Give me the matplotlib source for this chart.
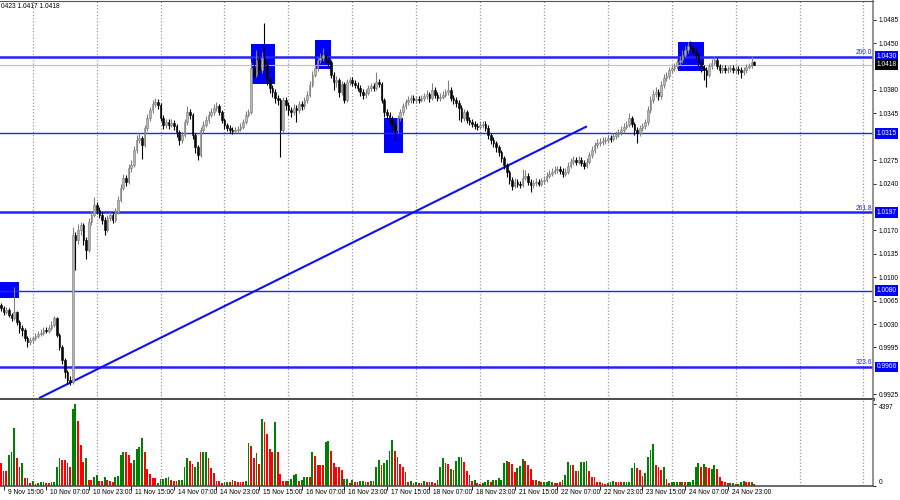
import matplotlib
matplotlib.use("Agg")
import matplotlib.pyplot as plt
import matplotlib.transforms as mtransforms
from matplotlib.patches import Rectangle
import numpy as np

plt.rcParams['font.family'] = ['Liberation Sans', 'DejaVu Sans']

# H1 bars, first bar is one hour before "9 Nov 15:00"
first_open = 1.0058
closes = [
    1.0054, 1.0048, 1.0051, 1.0044, 1.0039, 1.0048, 1.0033, 1.0024, 1.0021, 1.0009,
    1.0003, 1.0006, 1.0009, 1.0012, 1.0015, 1.0017, 1.0021, 1.0020, 1.0024, 1.0029,
    1.0039, 1.0014, 0.9996, 0.9976, 0.9958, 0.9946, 0.9943, 1.0163, 1.0156, 1.0171,
    1.0178, 1.0156, 1.0141, 1.0183, 1.0193, 1.0208, 1.0201, 1.0193, 1.0186, 1.0171,
    1.0189, 1.0193, 1.0186, 1.0198, 1.0216, 1.0234, 1.0249, 1.0243, 1.0264, 1.0268,
    1.0290, 1.0305, 1.0308, 1.0298, 1.0323, 1.0338, 1.0350, 1.0359, 1.0362, 1.0358,
    1.0338, 1.0328, 1.0332, 1.0328, 1.0331, 1.0326, 1.0317, 1.0305, 1.0313, 1.0332,
    1.0347, 1.0343, 1.0313, 1.0294, 1.0283, 1.0320, 1.0328, 1.0335, 1.0343, 1.0347,
    1.0353, 1.0356, 1.0347, 1.0335, 1.0328, 1.0323, 1.0320, 1.0319, 1.0320, 1.0322,
    1.0325, 1.0332, 1.0343, 1.0347, 1.0413, 1.0403, 1.0425, 1.0410, 1.0428, 1.0418,
    1.0395, 1.0383, 1.0377, 1.0368, 1.0365, 1.0320, 1.0365, 1.0358, 1.0350, 1.0347,
    1.0353, 1.0350, 1.0359, 1.0356, 1.0365, 1.0373, 1.0388, 1.0403, 1.0413, 1.0425,
    1.0428, 1.0433, 1.0425, 1.0422, 1.0403, 1.0392, 1.0395, 1.0377, 1.0389, 1.0365,
    1.0392, 1.0395, 1.0391, 1.0388, 1.0383, 1.0377, 1.0373, 1.0376, 1.0383, 1.0386,
    1.0383, 1.0392, 1.0389, 1.0365, 1.0347, 1.0343, 1.0338, 1.0328, 1.0320, 1.0338,
    1.0347, 1.0356, 1.0362, 1.0365, 1.0368, 1.0365, 1.0367, 1.0365, 1.0368, 1.0371,
    1.0374, 1.0368, 1.0380, 1.0373, 1.0368, 1.0370, 1.0373, 1.0377, 1.0380, 1.0368,
    1.0365, 1.0361, 1.0353, 1.0338, 1.0347, 1.0335, 1.0332, 1.0329, 1.0326, 1.0325,
    1.0328, 1.0329, 1.0323, 1.0313, 1.0305, 1.0301, 1.0294, 1.0287, 1.0279, 1.0268,
    1.0258, 1.0246, 1.0237, 1.0243, 1.0240, 1.0238, 1.0249, 1.0252, 1.0243, 1.0238,
    1.0241, 1.0243, 1.0240, 1.0244, 1.0246, 1.0252, 1.0255, 1.0258, 1.0261, 1.0262,
    1.0259, 1.0255, 1.0258, 1.0267, 1.0273, 1.0276, 1.0273, 1.0276, 1.0271, 1.0267,
    1.0273, 1.0283, 1.0290, 1.0297, 1.0301, 1.0302, 1.0304, 1.0305, 1.0308, 1.0307,
    1.0311, 1.0314, 1.0317, 1.0320, 1.0325, 1.0328, 1.0338, 1.0329, 1.0320, 1.0316,
    1.0323, 1.0326, 1.0332, 1.0350, 1.0365, 1.0374, 1.0377, 1.0371, 1.0388, 1.0398,
    1.0401, 1.0410, 1.0413, 1.0416, 1.0422, 1.0425, 1.0433, 1.0440, 1.0445, 1.0443,
    1.0437, 1.0433, 1.0422, 1.0413, 1.0410, 1.0403, 1.0416, 1.0421, 1.0425, 1.0416,
    1.0410, 1.0413, 1.0410, 1.0412, 1.0413, 1.0410, 1.0412, 1.0410, 1.0407, 1.0410,
    1.0415, 1.0416, 1.0422, 1.0418,
]
highs = [
    1.0062, 1.0057, 1.0055, 1.0054, 1.0047, 1.0085, 1.0050, 1.0036, 1.0028, 1.0024,
    1.0012, 1.0010, 1.0012, 1.0016, 1.0019, 1.0022, 1.0025, 1.0026, 1.0028, 1.0034,
    1.0042, 1.0040, 1.0016, 0.9998, 0.9979, 0.9962, 0.9952, 1.0175, 1.0168, 1.0180,
    1.0183, 1.0181, 1.0160, 1.0188, 1.0199, 1.0220, 1.0212, 1.0205, 1.0197, 1.0190,
    1.0193, 1.0198, 1.0197, 1.0203, 1.0222, 1.0240, 1.0255, 1.0253, 1.0270, 1.0275,
    1.0296, 1.0312, 1.0316, 1.0311, 1.0328, 1.0344, 1.0355, 1.0365, 1.0368, 1.0366,
    1.0361, 1.0342, 1.0337, 1.0336, 1.0336, 1.0335, 1.0329, 1.0320, 1.0318, 1.0337,
    1.0356, 1.0352, 1.0346, 1.0316, 1.0298, 1.0325, 1.0334, 1.0341, 1.0348, 1.0353,
    1.0359, 1.0362, 1.0359, 1.0350, 1.0338, 1.0331, 1.0327, 1.0324, 1.0324, 1.0326,
    1.0330, 1.0337, 1.0349, 1.0352, 1.0422, 1.0428, 1.0440, 1.0432, 1.0437, 1.0480,
    1.0425, 1.0400, 1.0388, 1.0381, 1.0373, 1.0368, 1.0370, 1.0369, 1.0362, 1.0355,
    1.0359, 1.0358, 1.0364, 1.0363, 1.0370, 1.0378, 1.0393, 1.0408, 1.0418, 1.0430,
    1.0436, 1.0443, 1.0437, 1.0430, 1.0425, 1.0407, 1.0401, 1.0398, 1.0394, 1.0392,
    1.0397, 1.0400, 1.0399, 1.0395, 1.0392, 1.0387, 1.0381, 1.0381, 1.0388, 1.0391,
    1.0390, 1.0407, 1.0397, 1.0392, 1.0368, 1.0352, 1.0347, 1.0341, 1.0332, 1.0343,
    1.0352, 1.0361, 1.0367, 1.0371, 1.0373, 1.0372, 1.0371, 1.0371, 1.0372, 1.0376,
    1.0380, 1.0377, 1.0390, 1.0384, 1.0377, 1.0375, 1.0378, 1.0382, 1.0395, 1.0384,
    1.0372, 1.0369, 1.0365, 1.0357, 1.0352, 1.0350, 1.0339, 1.0336, 1.0333, 1.0330,
    1.0333, 1.0334, 1.0333, 1.0327, 1.0316, 1.0309, 1.0304, 1.0297, 1.0290, 1.0282,
    1.0271, 1.0261, 1.0250, 1.0248, 1.0247, 1.0244, 1.0262, 1.0260, 1.0256, 1.0247,
    1.0246, 1.0248, 1.0247, 1.0249, 1.0251, 1.0257, 1.0261, 1.0263, 1.0266, 1.0267,
    1.0266, 1.0263, 1.0263, 1.0272, 1.0278, 1.0282, 1.0280, 1.0281, 1.0280, 1.0275,
    1.0278, 1.0288, 1.0296, 1.0302, 1.0307, 1.0308, 1.0309, 1.0310, 1.0313, 1.0313,
    1.0316, 1.0319, 1.0322, 1.0326, 1.0331, 1.0334, 1.0345, 1.0341, 1.0332, 1.0325,
    1.0328, 1.0331, 1.0337, 1.0356, 1.0371, 1.0380, 1.0385, 1.0381, 1.0393, 1.0404,
    1.0407, 1.0415, 1.0418, 1.0421, 1.0427, 1.0431, 1.0439, 1.0446, 1.0452, 1.0453,
    1.0448, 1.0442, 1.0436, 1.0425, 1.0418, 1.0414, 1.0421, 1.0426, 1.0431, 1.0428,
    1.0419, 1.0418, 1.0417, 1.0416, 1.0417, 1.0417, 1.0416, 1.0416, 1.0414, 1.0415,
    1.0419, 1.0421, 1.0431, 1.0423,
]
lows = [
    1.0049, 1.0044, 1.0045, 1.0040, 1.0035, 1.0036, 1.0028, 1.0017, 1.0012, 1.0004,
    0.9995, 0.9998, 1.0002, 1.0006, 1.0009, 1.0012, 1.0014, 1.0016, 1.0017, 1.0021,
    1.0026, 1.0010, 0.9992, 0.9970, 0.9950, 0.9940, 0.9939, 0.9940, 1.0111, 1.0150,
    1.0163, 1.0148, 1.0128, 1.0138, 1.0178, 1.0190, 1.0195, 1.0188, 1.0180, 1.0163,
    1.0168, 1.0184, 1.0181, 1.0183, 1.0195, 1.0212, 1.0230, 1.0237, 1.0240, 1.0258,
    1.0265, 1.0286, 1.0300, 1.0277, 1.0294, 1.0319, 1.0334, 1.0346, 1.0355, 1.0352,
    1.0333, 1.0322, 1.0323, 1.0322, 1.0324, 1.0320, 1.0310, 1.0298, 1.0300, 1.0310,
    1.0328, 1.0336, 1.0306, 1.0286, 1.0276, 1.0280, 1.0316, 1.0324, 1.0331, 1.0339,
    1.0343, 1.0349, 1.0342, 1.0330, 1.0322, 1.0318, 1.0315, 1.0314, 1.0315, 1.0316,
    1.0318, 1.0321, 1.0329, 1.0339, 1.0344, 1.0398, 1.0400, 1.0402, 1.0405, 1.0410,
    1.0388, 1.0376, 1.0370, 1.0360, 1.0358, 1.0280, 1.0315, 1.0350, 1.0343, 1.0340,
    1.0343, 1.0332, 1.0346, 1.0350, 1.0352, 1.0360, 1.0370, 1.0384, 1.0399, 1.0409,
    1.0420, 1.0424, 1.0420, 1.0416, 1.0398, 1.0380, 1.0385, 1.0370, 1.0372, 1.0360,
    1.0362, 1.0388, 1.0386, 1.0383, 1.0378, 1.0371, 1.0367, 1.0368, 1.0372, 1.0379,
    1.0378, 1.0380, 1.0384, 1.0360, 1.0340, 1.0336, 1.0330, 1.0318, 1.0305, 1.0316,
    1.0334, 1.0343, 1.0352, 1.0358, 1.0361, 1.0360, 1.0361, 1.0361, 1.0362, 1.0364,
    1.0367, 1.0362, 1.0365, 1.0368, 1.0363, 1.0364, 1.0366, 1.0369, 1.0372, 1.0363,
    1.0359, 1.0355, 1.0335, 1.0332, 1.0334, 1.0330, 1.0327, 1.0324, 1.0321, 1.0320,
    1.0321, 1.0323, 1.0318, 1.0307, 1.0299, 1.0295, 1.0288, 1.0281, 1.0273, 1.0262,
    1.0250, 1.0240, 1.0231, 1.0233, 1.0235, 1.0233, 1.0235, 1.0245, 1.0238, 1.0228,
    1.0234, 1.0237, 1.0236, 1.0236, 1.0240, 1.0242, 1.0248, 1.0251, 1.0254, 1.0256,
    1.0254, 1.0250, 1.0251, 1.0254, 1.0263, 1.0268, 1.0268, 1.0269, 1.0266, 1.0262,
    1.0263, 1.0270, 1.0279, 1.0286, 1.0293, 1.0296, 1.0298, 1.0299, 1.0301, 1.0302,
    1.0303, 1.0307, 1.0310, 1.0313, 1.0316, 1.0321, 1.0324, 1.0324, 1.0312, 1.0300,
    1.0311, 1.0318, 1.0321, 1.0328, 1.0346, 1.0361, 1.0369, 1.0365, 1.0367, 1.0383,
    1.0393, 1.0396, 1.0405, 1.0408, 1.0411, 1.0417, 1.0421, 1.0429, 1.0436, 1.0438,
    1.0432, 1.0427, 1.0416, 1.0407, 1.0395, 1.0384, 1.0399, 1.0411, 1.0417, 1.0411,
    1.0405, 1.0406, 1.0405, 1.0406, 1.0407, 1.0405, 1.0406, 1.0404, 1.0398, 1.0403,
    1.0406, 1.0411, 1.0413, 1.0417,
]
volumes = [
    1249, 820, 820, 1662, 1840, 3091, 1483, 1036, 1249, 411,
    411, 143, 268, 107, 143, 232, 232, 179, 143, 215,
    215, 1018, 1483, 1412, 1376, 1251, 1018, 4111, 4397, 3500,
    2198, 1305, 1483, 322, 322, 466, 590, 268, 268, 466,
    322, 268, 215, 466, 554, 1662, 1840, 1805, 1662, 1249,
    1376, 1984, 2090, 2555, 1840, 929, 661, 429, 411, 143,
    375, 375, 447, 500, 322, 268, 268, 304, 322, 1000,
    1483, 1340, 1161, 1000, 1287, 1823, 1823, 1823, 1483, 947,
    697, 268, 268, 143, 215, 215, 215, 322, 250, 215,
    215, 232, 268, 2287, 2144, 1483, 1751, 1161, 3608, 3429,
    2769, 1966, 1805, 3429, 1805, 661, 268, 268, 268, 375,
    608, 625, 268, 304, 500, 500, 466, 1840, 1590, 1125,
    1143, 1143, 2376, 2412, 1894, 1249, 1036, 1036, 858, 358,
    358, 143, 322, 197, 197, 268, 268, 197, 197, 268,
    268, 1000, 1412, 1143, 1215, 1376, 1876, 2465, 1894, 1555,
    1161, 1036, 768, 232, 286, 143, 232, 143, 143, 286,
    232, 232, 197, 143, 322, 1000, 1483, 1251, 1200,
    893, 858, 1340, 1572, 1572, 1304, 822, 572, 286, 322,
    143, 89, 143, 232, 322, 232, 322, 322, 411, 322,
    1251, 1340, 1304, 1161, 768, 947, 1072, 1429, 1358, 1126,
    893, 322, 322, 268, 232, 232, 214, 268, 232, 179,
    179, 232, 322, 572, 1286, 1108, 1126, 822, 822, 1286,
    1286, 1358, 822, 500, 465, 232, 232, 143, 107, 143,
    232, 286, 197, 214, 197, 214, 214, 232, 947, 1251,
    947, 858, 536, 715, 1572, 1930, 2233, 1126, 1001, 858,
    1001, 375, 179, 232, 232, 232, 214, 214, 214, 214,
    232, 322, 1001, 1251, 1036, 1179, 1001, 947, 893, 1108,
    893, 500, 286, 214, 143, 143, 143, 89, 107, 232,
    286, 232, 197, 232, 107,
]
# colour of each volume bar: g = rising hour, r = falling hour
volume_dir = (
    "rrrgggrrgr" "rrgrgggrrg" "gggrrrrggr" "rrgrrggrrg" "rrrggggrrr"
    "ggggrrrrrg" "ggggrrrggg" "grrggrggrr" "rrrrggrgrr" "rrggrrgrgr"
    "rrrgrrrrgg" "ggrgggrgrr" "rrggrrrrrg" "grgrrggrrg" "gggrggggrr"
    "rrrrgrgrrg" "rrrrgggrr"
    "grgggrrrrg" "rrgggrgggg" "ggrrrgggrr" "rrrgrggggr" "rrggggrrgg"
    "ggrrrrrrrg" "ggrrrggggg" "rrrggggrrr" "grrgggrgrg" "ggggrgrrgg"
    "rrrrrggrgg" "grrgr"
)
volume_max_label = 4397

date_labels = ["9 Nov 15:00", "10 Nov 07:00", "10 Nov 23:00", "11 Nov 15:00",
               "14 Nov 07:00", "14 Nov 23:00", "15 Nov 15:00", "16 Nov 07:00",
               "16 Nov 23:00", "17 Nov 15:00", "18 Nov 07:00", "18 Nov 23:00",
               "21 Nov 15:00", "22 Nov 07:00", "22 Nov 23:00", "23 Nov 15:00",
               "24 Nov 07:00", "24 Nov 23:00"]
# scale labels that are not hidden under the level boxes
price_ticks = [1.0485, 1.0450, 1.0380, 1.0345, 1.0275, 1.0240,
               1.0170, 1.0135, 1.0100, 1.0065, 1.0030, 0.9995, 0.9925]

levels = [1.0430, 1.0315, 1.0197, 1.0080, 0.9966]
fib_labels = {1.0430: "200.0", 1.0197: "261.8", 0.9966: "323.6"}
current_price = 1.0418
header = "0423 1.0417 1.0418"

# marked zones: (bar from, bar to, price low, price high)
zones = [(-1.3, 5.8, 1.0069, 1.0093),
         (93.0, 102.0, 1.0389, 1.0449),
         (117.0, 123.0, 1.0412, 1.0455),
         (142.9, 150.0, 1.0286, 1.0338),
         (253.3, 263.1, 1.0408, 1.0451)]
trend_bars = [13.7, 218.8]
trend_prices = [0.9920, 1.0325]

closes = np.array(closes)
opens = np.concatenate([[first_open], closes[:-1]])
highs = np.maximum(np.array(highs), np.maximum(opens, closes))
lows = np.minimum(np.array(lows), np.minimum(opens, closes))
x = np.arange(len(closes)) - 1
up = closes >= opens

fig = plt.figure(figsize=(9, 5), dpi=100)
fig.patch.set_facecolor('white')
ax = fig.add_axes([0, 0.202, 0.97, 0.796])
axv = fig.add_axes([0, 0.028, 0.97, 0.172], sharex=ax)

blue = '#0000ff'
line_blue = '#2323ff'

# day separators
for a in (ax, axv):
    for k in range(11, 330, 24):
        a.axvline(k, color='#9a9a9a', lw=0.9, ls=(0, (1, 1.6)), zorder=0)

for z0, z1, p0, p1 in zones:
    ax.add_patch(Rectangle((z0, p0), z1 - z0, p1 - p0, fc=blue, ec='none', zorder=1))

for lv in levels:
    lw = 1.0 if lv in (1.0315, 1.0080) else 1.8
    ax.axhline(lv, color=line_blue, lw=lw, zorder=2)
ax.axhline(current_price, color='#c0c0c0', lw=0.8, zorder=1.5)
ax.plot(trend_bars, trend_prices, color='#1010f0', lw=1.5, zorder=2)

# candles
wick_col = np.where(up, '#808080', '#000000')
ax.vlines(x, lows, highs, colors=wick_col, lw=0.8, zorder=3)
body_h = np.maximum(np.abs(closes - opens), 0.00005)
ax.bar(x[up], body_h[up], bottom=np.minimum(opens, closes)[up], width=0.62,
       color='#b4b4b4', edgecolor='#7a7a7a', lw=0.4, zorder=4)
ax.bar(x[~up], body_h[~up], bottom=np.minimum(opens, closes)[~up], width=0.62,
       color='#000000', edgecolor='#000000', lw=0.4, zorder=4)

ax.set_xlim(-1.32, 326.6)
ax.set_ylim(0.9918, 1.0513)

# volumes
vcol = ['#008000' if d == 'g' else '#ff0000' for d in volume_dir]
axv.bar(x, volumes, width=0.68, color=vcol, zorder=3)
axv.set_ylim(0, volume_max_label * 86 / 82)

# axes look
for a in (ax, axv):
    a.spines['left'].set_visible(False)
    a.spines['right'].set_color('#808080')
    a.spines['right'].set_linewidth(1.2)
    a.yaxis.tick_right()
    a.tick_params(axis='y', length=2.5, width=0.6, labelsize=4.8, pad=1.5)
ax.spines['top'].set_color('#555555')
ax.spines['bottom'].set_color('#505050')
ax.spines['bottom'].set_linewidth(2.2)
axv.spines['top'].set_visible(False)
axv.spines['bottom'].set_color('#505050')
axv.spines['bottom'].set_linewidth(1.2)

ax.set_yticks(price_ticks)
ax.set_yticklabels([f"{t:.4f}" for t in price_ticks])
ax.tick_params(axis='x', bottom=False, labelbottom=False)

axv.set_yticks([0, volume_max_label])
axv.set_yticklabels(["0", str(volume_max_label)])
lbls = axv.get_yticklabels()
lbls[0].set_va('bottom')
lbls[1].set_va('top')

label_bars = [16 * i for i in range(len(date_labels))]
axv.set_xticks(label_bars)
axv.set_xticklabels([])
axv.tick_params(axis='x', length=3, width=0.6, direction='out')
tr = mtransforms.offset_copy(mtransforms.blended_transform_factory(axv.transData, axv.transAxes),
                             fig=fig, x=4, y=-2.5, units='dots')
for k, lab in zip(label_bars, date_labels):
    axv.text(k, 0, lab, transform=tr, ha='left', va='top', fontsize=4.8, clip_on=False)

# price labels on the right scale
btr = mtransforms.blended_transform_factory(ax.transAxes, ax.transData)
for lv in levels:
    ax.text(1.004, lv, f"{lv:.4f}", transform=btr, fontsize=4.8, color='white', va='center',
            ha='left', clip_on=False, zorder=10,
            bbox=dict(boxstyle='square,pad=0.25', fc=blue, ec='none'))
ax.text(1.004, current_price, f"{current_price:.4f}", transform=btr, fontsize=4.8, color='white',
        va='center', ha='left', clip_on=False, zorder=10,
        bbox=dict(boxstyle='square,pad=0.25', fc='black', ec='none'))
for lv, txt in fib_labels.items():
    ax.text(0.999, lv + 0.0001, txt, transform=btr, fontsize=4.8, color=line_blue,
            ha='right', va='bottom', zorder=10)

fig.text(0.001, 0.988, header, fontsize=4.8, va='center', ha='left')

fig.savefig('out.png', dpi=100)
